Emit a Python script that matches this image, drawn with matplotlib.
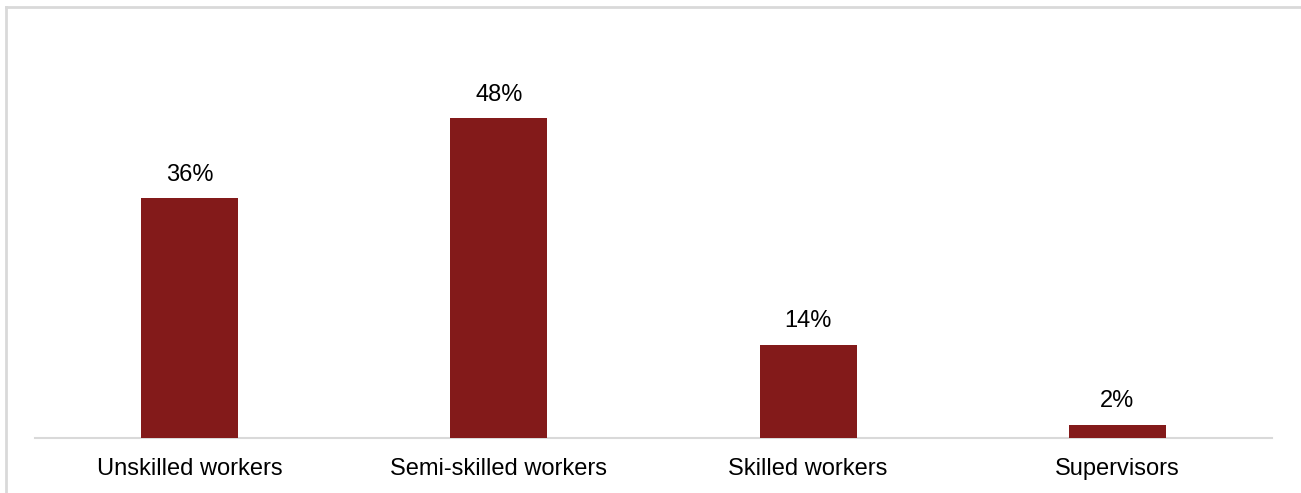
import matplotlib
matplotlib.use("Agg")
import matplotlib.pyplot as plt
from matplotlib.lines import Line2D

categories = ["Unskilled workers", "Semi-skilled workers", "Skilled workers", "Supervisors"]
shares = [36, 48, 14, 2]
labels = ["36%", "48%", "14%", "2%"]

BAR_COLOR = "#831A1A"
GRID_GRAY = "#D9D9D9"

plt.rcParams["font.family"] = ["Liberation Sans", "DejaVu Sans"]

W, H = 1301, 493
fig = plt.figure(figsize=(W / 100, H / 100), dpi=100)

left, right = 35 / W, 1272 / W
bottom = (H - 438) / H
top = (H - 38) / H
ax = fig.add_axes([left, bottom, right - left, top - bottom])

x = range(len(categories))
bars = ax.bar(x, shares, width=0.314, color=BAR_COLOR, zorder=2)
ax.set_xlim(-0.5, len(categories) - 0.5)
ax.set_ylim(0, 60)

for rect, txt in zip(bars, labels):
    ax.annotate(txt, (rect.get_x() + rect.get_width() / 2, rect.get_height()),
                xytext=(0, 12.5), textcoords="offset points",
                ha="center", va="baseline", fontsize=17, color="#000000")

for side in ["top", "right", "left"]:
    ax.spines[side].set_visible(False)
ax.spines["bottom"].set_color(GRID_GRAY)
ax.spines["bottom"].set_linewidth(1.5)
ax.spines["bottom"].set_zorder(1)
ax.set_yticks([])
ax.set_xticks(list(x))
ax.set_xticklabels(categories, fontsize=17)
ax.tick_params(axis="x", length=0, pad=14.5)

# Frame around the chart area (left and top edges)
fx0, fy0 = 6 / W, (H - 7) / H
fig.add_artist(Line2D([fx0, fx0], [0, fy0], transform=fig.transFigure,
                      color=GRID_GRAY, linewidth=2))
fig.add_artist(Line2D([fx0, 1.0], [fy0, fy0], transform=fig.transFigure,
                      color=GRID_GRAY, linewidth=2))

fig.savefig("out.png", dpi=100)
